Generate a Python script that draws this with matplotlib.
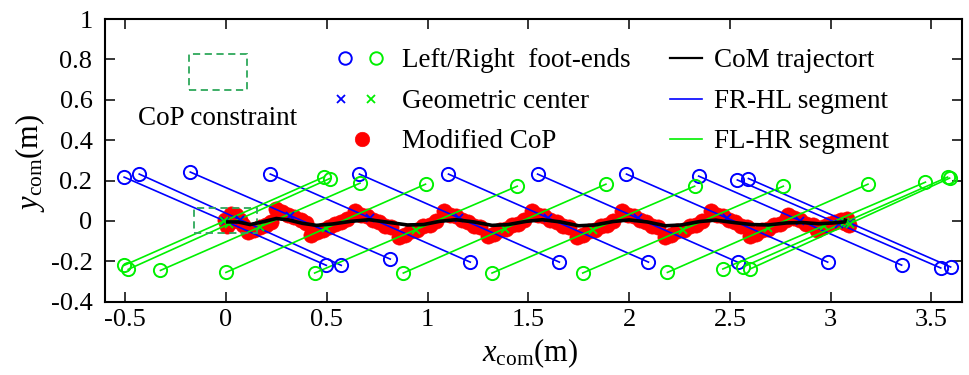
import matplotlib
matplotlib.use("Agg")
import matplotlib.pyplot as plt
from matplotlib.patches import Rectangle
import numpy as np

plt.rcParams["font.family"] = ["Liberation Serif", "DejaVu Serif"]
plt.rcParams["mathtext.fontset"] = "custom"
plt.rcParams["mathtext.rm"] = "Liberation Serif"
plt.rcParams["mathtext.it"] = "Liberation Serif:italic"
plt.rcParams["axes.unicode_minus"] = False

# ---- FR-HL diagonal (blue): upper foot-end -> lower foot-end ----
frhl_top_x = [-0.505, -0.43, -0.177, 0.22, 0.662, 1.104, 1.546, 1.987, 2.345, 2.537, 2.592]
frhl_top_y = [0.217, 0.232, 0.242, 0.232, 0.232, 0.232, 0.232, 0.232, 0.222, 0.203, 0.21]
frhl_bot_x = [0.498, 0.572, 0.815, 1.212, 1.654, 2.096, 2.538, 2.985, 3.352, 3.546, 3.595]
frhl_bot_y = [-0.22, -0.22, -0.189, -0.204, -0.204, -0.204, -0.204, -0.204, -0.219, -0.233, -0.228]

# ---- FL-HR diagonal (green): lower foot-end -> upper foot-end ----
flhr_bot_x = [-0.505, -0.485, -0.325, 0.0, 0.44, 0.88, 1.32, 1.77, 2.19, 2.465, 2.565, 2.60]
flhr_bot_y = [-0.22, -0.24, -0.245, -0.255, -0.258, -0.258, -0.258, -0.258, -0.255, -0.238, -0.228, -0.238]
flhr_top_x = [0.485, 0.515, 0.665, 0.99, 1.445, 1.885, 2.325, 2.765, 3.185, 3.47, 3.58, 3.59]
flhr_top_y = [0.217, 0.21, 0.187, 0.182, 0.172, 0.182, 0.172, 0.172, 0.182, 0.192, 0.217, 0.212]

# ---- modified CoP samples ----
cop_x = [-0.005, 0.005, 0.025, 0.05, 0.035, 0.07, 0.085,
         0.11, 0.14, 0.17, 0.20, 0.225,
         0.25, 0.28, 0.31, 0.34, 0.37, 0.395,
         0.42, 0.45, 0.48, 0.51, 0.54, 0.57, 0.60,
         0.64, 0.67, 0.70, 0.73, 0.76, 0.79, 0.82,
         0.86, 0.89, 0.92, 0.95, 0.98, 1.01, 1.04,
         1.08, 1.11, 1.14, 1.17, 1.20, 1.23, 1.26,
         1.30, 1.33, 1.36, 1.39, 1.42, 1.45, 1.48,
         1.52, 1.55, 1.58, 1.61, 1.64, 1.67, 1.70,
         1.74, 1.77, 1.80, 1.83, 1.86, 1.89, 1.92,
         1.965, 1.995, 2.025, 2.055, 2.085, 2.115, 2.145,
         2.18, 2.21, 2.24, 2.27, 2.30, 2.33, 2.36,
         2.405, 2.435, 2.465, 2.495, 2.525, 2.555, 2.585,
         2.60, 2.63, 2.66, 2.69, 2.72, 2.75, 2.78,
         2.79, 2.82, 2.85, 2.88, 2.91,
         2.93, 2.96, 2.99, 3.02,
         3.05, 3.07, 3.08, 3.09, 3.065]
cop_y = [0.005, -0.025, 0.035, 0.03, 0.0, 0.005, -0.02,
         -0.055, -0.045, -0.03, -0.02, -0.005,
         0.058, 0.045, 0.03, 0.018, 0.005, -0.01,
         -0.07, -0.055, -0.045, -0.03, -0.015, -0.005, 0.01,
         0.05, 0.03, 0.025, 0.003, -0.003, -0.023, -0.03,
         -0.078, -0.071, -0.05, -0.045, -0.025, -0.019, 0.0,
         0.05, 0.03, 0.025, 0.003, -0.003, -0.023, -0.03,
         -0.073, -0.066, -0.045, -0.04, -0.02, -0.014, 0.005,
         0.05, 0.03, 0.025, 0.003, -0.003, -0.023, -0.03,
         -0.078, -0.071, -0.05, -0.045, -0.025, -0.019, 0.0,
         0.05, 0.03, 0.025, 0.003, -0.003, -0.023, -0.03,
         -0.078, -0.071, -0.05, -0.045, -0.025, -0.019, 0.0,
         0.05, 0.03, 0.025, 0.003, -0.003, -0.023, -0.03,
         -0.073, -0.066, -0.045, -0.04, -0.02, -0.014, 0.005,
         0.03, 0.013, 0.005, -0.013, -0.02,
         -0.043, -0.029, -0.016, -0.003,
         0.005, -0.01, 0.01, -0.02, 0.0]

# ---- CoM trajectory ----
com_x = [0.00, 0.06, 0.12, 0.18, 0.25, 0.31, 0.38, 0.45, 0.53, 0.62, 0.71, 0.80,
         0.90, 0.98, 1.06, 1.14, 1.23, 1.32, 1.40, 1.49, 1.57, 1.66, 1.75, 1.83,
         1.92, 2.00, 2.09, 2.18, 2.26, 2.35, 2.43, 2.52, 2.61, 2.69, 2.78, 2.86,
         2.94, 3.01, 3.07, 3.075]
com_y = [-0.005, -0.005, -0.018, -0.005, 0.012, 0.005, -0.012, -0.022, -0.015, -0.002, 0.006, -0.006,
         -0.02, -0.018, -0.002, 0.006, -0.005, -0.022, -0.018, -0.002, 0.006, -0.005, -0.024, -0.02,
         -0.003, 0.005, -0.005, -0.024, -0.02, -0.003, 0.004, -0.008, -0.018, -0.02, -0.01, -0.008,
         -0.014, -0.01, -0.005, 0.012]

# CoP constraint region around the initial CoM
cop_box_x = [-0.16, 0.155]
cop_box_y = [-0.062, 0.065]

xticks = [-0.5, 0, 0.5, 1, 1.5, 2, 2.5, 3, 3.5]
xtick_labels = ["-0.5", "0", "0.5", "1", "1.5", "2", "2.5", "3", "3.5"]
yticks = [-0.4, -0.2, 0, 0.2, 0.4, 0.6, 0.8, 1.0]
ytick_labels = ["-0.4", "-0.2", "0", "0.2", "0.4", "0.6", "0.8", "1"]

BLUE = "#0000ff"
GREEN = "#00f000"
RED = "#ff0000"
BOX = "#2ea85a"

W, H = 969, 375
fig = plt.figure(figsize=(W / 100, H / 100), dpi=100)
ax_l, ax_r, ax_t, ax_b = 105, 961.7, 19, 301.7
ax = fig.add_axes([ax_l / W, (H - ax_b) / H, (ax_r - ax_l) / W, (ax_b - ax_t) / H])
ax.set_xlim(-0.6, 3.65)
ax.set_ylim(-0.4, 1.0)

# modified CoP
ax.plot(cop_x, cop_y, "o", color=RED, ms=11, mec=RED, mew=0.4, ls="none", zorder=2)

# diagonals
for x0, y0, x1, y1 in zip(frhl_top_x, frhl_top_y, frhl_bot_x, frhl_bot_y):
    ax.plot([x0, x1], [y0, y1], color=BLUE, lw=1.2, zorder=3)
for x0, y0, x1, y1 in zip(flhr_bot_x, flhr_bot_y, flhr_top_x, flhr_top_y):
    ax.plot([x0, x1], [y0, y1], color=GREEN, lw=1.2, zorder=3)

# foot-ends
ax.plot(frhl_top_x + frhl_bot_x, frhl_top_y + frhl_bot_y, "o", mfc="none", mec=BLUE,
        ms=9.5, mew=1.4, ls="none", zorder=4)
ax.plot(flhr_bot_x + flhr_top_x, flhr_bot_y + flhr_top_y, "o", mfc="none", mec=GREEN,
        ms=9.5, mew=1.4, ls="none", zorder=4)

# geometric centers of the diagonals
gc_b_x = (np.array(frhl_top_x) + np.array(frhl_bot_x)) / 2
gc_b_y = (np.array(frhl_top_y) + np.array(frhl_bot_y)) / 2
gc_g_x = (np.array(flhr_top_x) + np.array(flhr_bot_x)) / 2
gc_g_y = (np.array(flhr_top_y) + np.array(flhr_bot_y)) / 2
ax.plot(gc_b_x, gc_b_y, "x", color=BLUE, ms=5.5, mew=1.3, ls="none", zorder=4)
ax.plot(gc_g_x, gc_g_y, "x", color=GREEN, ms=5.5, mew=1.3, ls="none", zorder=4)

# CoM trajectory
ax.plot(com_x, com_y, color="black", lw=2.6, zorder=5, solid_capstyle="butt")

# CoP constraint rectangle
ax.add_patch(Rectangle((cop_box_x[0], cop_box_y[0]), cop_box_x[1] - cop_box_x[0],
                       cop_box_y[1] - cop_box_y[0], fill=False, ec=BOX, lw=1.3,
                       ls=(0, (4, 2.5)), zorder=4))

# axes styling
ax.set_xticks(xticks)
ax.set_xticklabels(xtick_labels)
ax.set_yticks(yticks)
ax.set_yticklabels(ytick_labels)
ax.tick_params(direction="in", length=7.2, width=1.1, top=True, right=True,
               labelsize=19)
ax.tick_params(axis="x", pad=5)
ax.tick_params(axis="y", pad=9)
for sp in ax.spines.values():
    sp.set_linewidth(1.5)

fig.text(530 / W, (H - 361) / H, r"$x_{\mathrm{com}}$(m)", fontsize=22,
         ha="center", va="baseline")
fig.text(30 / W, (H - 163) / H, r"$y_{\mathrm{com}}$(m)", fontsize=22,
         ha="center", va="center", rotation=90)

# ---- legend (drawn in axes-fraction coordinates) ----
def fx(px):
    return (px - ax_l) / (ax_r - ax_l)

def fy(py):
    return (ax_b - py) / (ax_b - ax_t)

T = ax.transAxes
kw = dict(transform=T, clip_on=False, ls="none", zorder=6)
rows = [58, 99, 139]
fs_leg = 19.5
base = 9

ax.add_patch(Rectangle((fx(189), fy(90)), fx(247) - fx(189), fy(54) - fy(90),
                       transform=T, fill=False, ec=BOX, lw=1.3, ls=(0, (4, 2.5))))
ax.text(fx(218), fy(116 + base), "CoP constraint", transform=T, fontsize=fs_leg,
        ha="center", va="baseline")

ax.plot([fx(345)], [fy(rows[0])], "o", mfc="none", mec=BLUE, ms=9, mew=1.4, **kw)
ax.plot([fx(376)], [fy(rows[0])], "o", mfc="none", mec=GREEN, ms=9, mew=1.4, **kw)
ax.plot([fx(341)], [fy(rows[1])], "x", color=BLUE, ms=5.5, mew=1.3, **kw)
ax.plot([fx(371)], [fy(rows[1])], "x", color=GREEN, ms=5.5, mew=1.3, **kw)
ax.plot([fx(362)], [fy(rows[2])], "o", color=RED, mec=RED, ms=10.5, mew=0.4, **kw)
for r, s in zip(rows, ["Left/Right  foot-ends", "Geometric center", "Modified CoP"]):
    ax.text(fx(402), fy(r + base), s, transform=T, fontsize=fs_leg, va="baseline")

for r, c, s in zip(rows, ["black", BLUE, GREEN],
                   ["CoM trajectort", "FR-HL segment", "FL-HR segment"]):
    ax.plot([fx(670), fx(702)], [fy(r), fy(r)], color=c, lw=1.6 if c == "black" else 1.2,
            transform=T, clip_on=False, zorder=6)
    ax.text(fx(714), fy(r + base), s, transform=T, fontsize=fs_leg, va="baseline")

fig.savefig("out.png", dpi=100)
